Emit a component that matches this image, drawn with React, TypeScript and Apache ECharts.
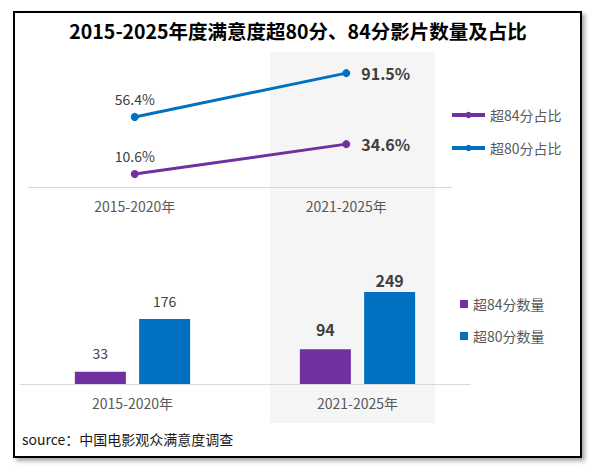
import React, { useEffect, useRef } from "react";
import * as echarts from "echarts";

const categories = ["2015-2020年", "2021-2025年"];
const share84 = [10.6, 34.6];
const share80 = [56.4, 91.5];
const count84 = [33, 94];
const count80 = [176, 249];

const PURPLE = "#7030A0";
const BLUE = "#0070C0";
const FONT = "'Noto Sans CJK SC', 'Noto Sans', sans-serif";

const normalLabel = { fontSize: 14, color: "#404040", fontWeight: "normal" as const };
const boldLabel = { fontSize: 16, color: "#404040", fontWeight: "bold" as const };

export default function App() {
  const ref = useRef<HTMLDivElement>(null);

  useEffect(() => {
    if (!ref.current) return;
    const chart = echarts.init(ref.current, undefined, { renderer: "svg" });

    const lineData = (vals: number[]) =>
      vals.map((v, i) => ({
        value: v,
        label:
          i === 0
            ? { ...normalLabel, position: "top", distance: 7 }
            : { ...boldLabel, position: "right", distance: 11 },
      }));

    const barDist84 = [12, 12];
    const barDist80 = [11, 4];
    const barData = (vals: number[], dist: number[]) =>
      vals.map((v, i) => ({
        value: v,
        label: { ...(i === 0 ? normalLabel : boldLabel), position: "top", distance: dist[i] },
      }));

    chart.setOption({
      animation: false,
      textStyle: { fontFamily: FONT },
      title: {
        text: "2015-2025年度满意度超80分、84分影片数量及占比",
        left: "center",
        top: 16,
        textStyle: { fontSize: 19.5, fontWeight: "bold", color: "#000", fontFamily: FONT },
      },
      graphic: [
        {
          type: "rect",
          z: -10,
          shape: { x: 14, y: 12, width: 567, height: 445 },
          style: {
            fill: "#fff",
            stroke: "#000",
            lineWidth: 2,
            shadowBlur: 4,
            shadowOffsetX: 3,
            shadowOffsetY: 3,
            shadowColor: "rgba(0,0,0,0.35)",
          },
        },
        {
          type: "rect",
          z: -9,
          shape: { x: 270, y: 52, width: 165, height: 371 },
          style: { fill: "#F5F5F5" },
        },
        {
          type: "text",
          left: 22,
          top: 432,
          style: {
            text: "source：中国电影观众满意度调查",
            fontSize: 14,
            fill: "#1a1a1a",
            fontFamily: FONT,
          },
        },
      ],
      legend: [
        {
          data: ["超84分占比", "超80分占比"],
          orient: "vertical",
          left: 445,
          top: 103,
          itemWidth: 33,
          itemHeight: 8,
          itemGap: 19,
          lineStyle: { width: 4 },
          textStyle: { fontSize: 14, color: "#595959", fontFamily: FONT },
        },
        {
          data: ["超84分数量", "超80分数量"],
          orient: "vertical",
          left: 455,
          top: 292,
          icon: "rect",
          itemWidth: 8,
          itemHeight: 8,
          itemGap: 18,
          textStyle: { fontSize: 14, color: "#595959", fontFamily: FONT },
        },
      ],
      grid: [
        { left: 29, right: 144, top: 62.5, height: 124.8 },
        { left: 20, right: 126, top: 273.2, height: 110.8 },
      ],
      xAxis: [
        {
          gridIndex: 0,
          type: "category",
          data: categories,
          axisLine: { lineStyle: { color: "#D9D9D9", width: 1 } },
          axisTick: { show: false },
          axisLabel: { fontSize: 14, color: "#595959", margin: 12 },
        },
        {
          gridIndex: 1,
          type: "category",
          data: categories,
          axisLine: { lineStyle: { color: "#D9D9D9", width: 1 } },
          axisTick: { show: false },
          axisLabel: { fontSize: 14, color: "#595959", margin: 12 },
        },
      ],
      yAxis: [
        { gridIndex: 0, type: "value", min: 0, max: 100, show: false, splitLine: { show: false } },
        { gridIndex: 1, type: "value", min: 0, max: 300, show: false, splitLine: { show: false } },
      ],
      series: [
        {
          name: "超84分占比",
          type: "line",
          xAxisIndex: 0,
          yAxisIndex: 0,
          data: lineData(share84),
          symbol: "circle",
          symbolSize: 8,
          color: PURPLE,
          lineStyle: { width: 3, color: PURPLE },
          label: { show: true, formatter: "{c}%" },
        },
        {
          name: "超80分占比",
          type: "line",
          xAxisIndex: 0,
          yAxisIndex: 0,
          data: lineData(share80),
          symbol: "circle",
          symbolSize: 8,
          color: BLUE,
          lineStyle: { width: 3, color: BLUE },
          label: { show: true, formatter: "{c}%" },
        },
        {
          name: "超84分数量",
          type: "bar",
          xAxisIndex: 1,
          yAxisIndex: 1,
          data: barData(count84, barDist84),
          barWidth: 51,
          barGap: "26%",
          color: PURPLE,
          label: { show: true },
        },
        {
          name: "超80分数量",
          type: "bar",
          xAxisIndex: 1,
          yAxisIndex: 1,
          data: barData(count80, barDist80),
          barWidth: 51,
          barGap: "26%",
          color: BLUE,
          label: { show: true },
        },
      ],
    });

    return () => chart.dispose();
  }, []);

  return (
    <div
      ref={ref}
      style={{ position: "absolute", left: 0, top: 0, width: 596, height: 471, background: "#fff" }}
    />
  );
}
